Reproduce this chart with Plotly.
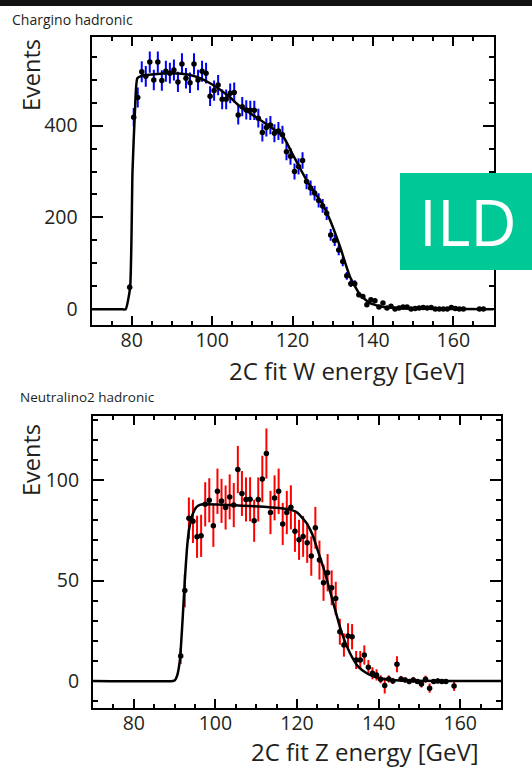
import numpy as np
import plotly.graph_objects as go

W, H = 532, 775
FONT = "Open Sans"
TXT = "#231f20"

# ---- Chargino hadronic: reconstructed W energy, 1 GeV bins ----
w_energy = np.arange(79.5, 168.0, 1.0)
w_events = [48, 418, 461, 517, 507, 538, 499, 538, 498, 518,
            514, 521, 495, 534, 503, 493, 534, 499, 518, 514,
            464, 476, 488, 457, 457, 470, 472, 423, 441, 434,
            433, 433, 416, 385, 396, 401, 383, 388, 380, 343,
            333, 300, 311, 324, 278, 264, 253, 237, 225, 209,
            162, 150, 129, 104, 73, 56, 56, 32, 28, 10,
            21, 19, 5, 14, 3, 7, 1, 3, 5, 5,
            1, 2, 3, 4, 3, 4, 1, 1, 1, 1,
            4, 2, 1, 1, None, None, None, 1, 1]
w_errors = [7, 20.4, 21.5, 22.7, 22.5, 23.2, 22.3, 23.2, 22.3, 22.8,
            22.7, 22.8, 22.2, 23.1, 22.4, 22.2, 23.1, 22.3, 22.8, 22.7,
            21.5, 21.8, 22.1, 21.4, 21.4, 21.7, 21.7, 20.6, 21.0, 20.8,
            20.8, 20.8, 20.4, 19.6, 19.9, 20.0, 19.6, 19.7, 19.5, 18.5,
            18.2, 17.3, 17.6, 18.0, 16.7, 16.2, 15.9, 15.4, 15.0, 14.5,
            12.7, 12.2, 11.4, 10.2, 8.5, 7.5, 7.5, 5.7, 5.3, 3.2,
            4.6, 4.4, 2.2, 3.7, 1.7, 2.6, 1, 1.7, 2.2, 2.2,
            1, 1.4, 1.7, 2, 1.7, 2, 1, 1, 1, 1,
            2, 1.4, 1, 1, 0, 0, 0, 1, 1]

# fitted spectrum shape (W energy)
w_fit_energy = [70, 77.8, 78.5, 79.6, 80.2, 80.8, 81.4, 82.5, 85.0, 88.7,
                91.5, 94.5, 97.0, 99.5, 102.0, 104.5, 107.0, 109.4, 112.0, 114.8,
                117.7, 120.0, 122.3, 123.9, 125.6, 127.3, 129.3, 131.8, 134.3, 136.8,
                139.3, 142.6, 146.7, 155.0, 170.0]
w_fit_events = [0, 0, 0, 47, 300, 430, 503, 508, 511, 514,
                513, 510, 503, 492, 478, 461, 441, 427, 412, 395,
                376, 338, 300, 275, 253, 231, 195, 137, 71, 32,
                13.5, 5, 2.6, 1.2, 0.5]

# ---- Neutralino2 hadronic: reconstructed Z energy, 1 GeV bins ----
z_energy = np.arange(91.5, 159.0, 1.0)
z_events = [12.4, 45, 81, 79.5, 71.8, 72.3, 88, 90, 77.3, 94.5,
            89.7, 86.4, 91.7, 87.6, 105.3, 93.4, 90.4, 90.5, 79.8, 90.4,
            100.6, 113.3, 83.9, 91.2, 94.5, 78.2, 83.9, 86.5, 74.6, 70.3,
            72.0, 68.8, 62.2, 76.3, 60.2, 48.9, 53.9, 46.4, 41.1, 24.5,
            17.9, 22.4, 22.0, 10.4, 10.4, 12.9, 6.8, 3.8, 3.0, 0.8,
            -2.3, 1.0, 0.0, 8.3, 1.0, 0.5, -0.3, 0.5, -0.3, -1.5,
            0.8, -3.6, -0.3, 0.0, -0.3, -0.3, None, -2.5]
z_errors = [4, 8.3, 10.4, 10.8, 10.5, 10.5, 11, 11, 10.5, 11.3,
            11, 11, 11.2, 11, 11.8, 11.2, 11, 11, 10.5, 11,
            11.6, 12.5, 10.8, 11.2, 11.3, 10.5, 10.8, 11, 10.3, 10,
            10.2, 10, 9.8, 10.4, 9.7, 9, 9.3, 8.7, 8.3, 6.5,
            5.8, 6.3, 6.3, 4.5, 4.5, 4.8, 3.6, 3, 2.8, 2,
            4, 1.8, 1.5, 4, 1.5, 1.3, 1.3, 1.5, 1.2, 1.8,
            1.8, 2.3, 1.2, 1.2, 1.2, 1.2, 0, 2.5]

# fitted spectrum shape (Z energy)
z_fit_energy = [70, 89.6, 90.1, 90.6, 91.3, 92.0, 92.5, 93.0, 93.5, 94.2,
                94.8, 95.4, 96.2, 97.0, 108.5, 116.6, 118.7, 119.8, 120.7, 121.6,
                122.4, 123.2, 124.0, 124.8, 126.9, 128.9, 131.0, 133.0, 135.0, 137.1,
                139.0, 141.2, 145.2, 170.0]
z_fit_events = [0, 0, 0.4, 2.5, 10.4, 32, 50, 65, 75, 81.7,
                84.8, 86.7, 87.7, 88, 87.1, 85.9, 85.1, 84.2, 82.6, 80.5,
                78.5, 75.5, 71.8, 66.8, 53.6, 38.7, 23.7, 13.8, 7.1, 3.8,
                2.0, 1.0, 0.2, 0]

x_ticks = [80, 100, 120, 140, 160]


def px_x(p):
    return p / W


def px_y(p):
    return 1 - p / H


fig = go.Figure()

# W panel
fig.add_trace(go.Scatter(
    x=w_energy, y=w_events, mode="markers", xaxis="x", yaxis="y",
    marker=dict(color="black", size=5.5),
    error_y=dict(type="data", array=w_errors, color="#0000ff", thickness=2, width=0),
    showlegend=False, hoverinfo="x+y"))
fig.add_trace(go.Scatter(
    x=w_fit_energy, y=w_fit_events, mode="lines", xaxis="x", yaxis="y",
    line=dict(color="black", width=2.5, shape="spline", smoothing=0.5),
    showlegend=False, hoverinfo="skip"))

# Z panel
fig.add_trace(go.Scatter(
    x=z_energy, y=z_events, mode="markers", xaxis="x2", yaxis="y2",
    marker=dict(color="black", size=5.5),
    error_y=dict(type="data", array=z_errors, color="#ff0000", thickness=2, width=0),
    showlegend=False, hoverinfo="x+y"))
fig.add_trace(go.Scatter(
    x=z_fit_energy, y=z_fit_events, mode="lines", xaxis="x2", yaxis="y2",
    line=dict(color="black", width=2.5, shape="spline", smoothing=0.5),
    showlegend=False, hoverinfo="skip"))

tickfont = dict(family=FONT, size=19.5, color=TXT)


def xaxis_style(domain, anchor):
    return dict(
        domain=domain, anchor=anchor, range=[70, 170],
        tickvals=x_ticks, ticks="inside", ticklen=9, tickwidth=1.5, tickcolor="black",
        minor=dict(dtick=5, tick0=70, ticks="inside", ticklen=4, tickwidth=1.5, tickcolor="black"),
        showline=True, linecolor="black", linewidth=2, mirror="allticks",
        showgrid=False, zeroline=False, tickfont=tickfont, ticklabelstandoff=-3)


def yaxis_style(domain, anchor, rng, major, minor_step):
    return dict(
        domain=domain, anchor=anchor, range=rng,
        tickvals=major, ticks="inside", ticklen=11, tickwidth=1.5, tickcolor="black",
        minor=dict(dtick=minor_step, tick0=0, ticks="inside", ticklen=5, tickwidth=1.5, tickcolor="black"),
        showline=True, linecolor="black", linewidth=2, mirror="allticks",
        showgrid=False, zeroline=False, tickfont=tickfont, ticklabelstandoff=8)


fig.update_layout(
    width=W, height=H, margin=dict(l=0, r=0, t=0, b=0),
    paper_bgcolor="white", plot_bgcolor="white",
    xaxis=xaxis_style([px_x(91.5), px_x(493.5)], "y"),
    yaxis=yaxis_style([px_y(325), px_y(37.3)], "x", [-34, 592], [0, 200, 400], 50),
    xaxis2=xaxis_style([px_x(93), px_x(501)], "y2"),
    yaxis2=yaxis_style([px_y(708), px_y(416)], "x2", [-13.5, 132], [0, 50, 100], 10),
)

annotations = [
    dict(text="Chargino hadronic", x=px_x(10), y=px_y(19), xanchor="left", yanchor="middle",
         font=dict(family=FONT, size=14, color=TXT)),
    dict(text="Neutralino2 hadronic", x=px_x(18), y=px_y(397), xanchor="left", yanchor="middle",
         font=dict(family=FONT, size=13.5, color=TXT)),
    dict(text="Events", x=px_x(31), y=px_y(75), textangle=-90, xanchor="center", yanchor="middle",
         font=dict(family=FONT, size=23.5, color=TXT)),
    dict(text="Events", x=px_x(31), y=px_y(460), textangle=-90, xanchor="center", yanchor="middle",
         font=dict(family=FONT, size=23.5, color=TXT)),
    dict(text="2C fit W energy [GeV]", x=px_x(467), y=px_y(370), xanchor="right", yanchor="middle",
         font=dict(family=FONT, size=24, color=TXT)),
    dict(text="2C fit Z energy [GeV]", x=px_x(481), y=px_y(751), xanchor="right", yanchor="middle",
         font=dict(family=FONT, size=24, color=TXT)),
    dict(text="ILD", x=px_x(468), y=px_y(221), xanchor="center", yanchor="middle",
         font=dict(family=FONT, size=64, color="white")),
]
for a in annotations:
    a.update(xref="paper", yref="paper", showarrow=False)
fig.update_layout(annotations=annotations)

fig.update_layout(shapes=[
    # dark strip along the top edge
    dict(type="rect", xref="paper", yref="paper", x0=0, x1=1, y0=px_y(6), y1=1,
         fillcolor="#121212", line=dict(width=0), layer="above"),
    # ILD badge
    dict(type="rect", xref="paper", yref="paper", x0=px_x(400), x1=1, y0=px_y(270), y1=px_y(173),
         fillcolor="#00c896", line=dict(width=0), layer="above"),
])

fig.write_html("out.html")
